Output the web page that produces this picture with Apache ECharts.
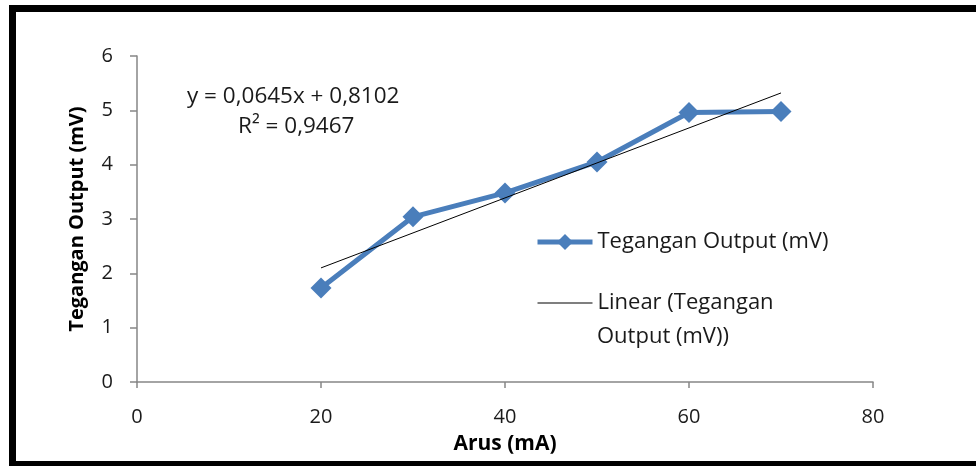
<!DOCTYPE html>
<html>
<head>
<meta charset="utf-8">
<script src="https://cdn.jsdelivr.net/npm/echarts@6/dist/echarts.min.js"></script>
<style>
  html, body { margin: 0; padding: 0; background: #fff; overflow: hidden; }
  #frame {
    position: absolute; left: 9px; top: 5px; width: 1000px; height: 449px;
    border-left: 7px solid #000; border-top: 7px solid #000; border-bottom: 5px solid #000;
  }
  #chart { position: absolute; left: 0; top: 0; width: 976px; height: 466px; }
</style>
</head>
<body>
<div id="frame"></div>
<div id="chart"></div>
<script>
const arus = [20, 30, 40, 50, 60, 70];
const tegangan = [1.73, 3.04, 3.48, 4.05, 4.96, 4.98];
// trendline ends
const trendX = [20, 70];
const trendY = [2.1, 5.32];
const eqText = ["y = 0,0645x + 0,8102", "R² = 0,9467"];

const font = "Open Sans";
const txt = "#1a1a1a";
const c = echarts.init(document.getElementById("chart"));

c.setOption({
  animation: false,
  textStyle: { fontFamily: font },
  grid: { left: 137, right: 103, top: 56, bottom: 84 },
  legend: {
    orient: "vertical",
    left: 530,
    top: 224,
    itemGap: 35,
    itemWidth: 55,
    itemHeight: 20,
    textStyle: { fontSize: 22, lineHeight: 26, color: txt, fontFamily: font },
    data: [
      { name: "Tegangan Output (mV)", lineStyle: { width: 5 } },
      { name: "Linear (Tegangan", icon: "path://M0,9.5 L56,9.5 L56,10.5 L0,10.5 Z", itemStyle: { color: "#000" } }
    ]
  },
  xAxis: {
    type: "value",
    min: 0, max: 80, interval: 20,
    name: "Arus (mA)",
    nameLocation: "middle",
    nameGap: 52,
    nameTextStyle: { fontSize: 21, fontWeight: "bold", color: "#000", fontFamily: font },
    axisLine: { lineStyle: { color: "#868686", width: 1.5 } },
    axisTick: { show: true, length: 6, lineStyle: { color: "#868686", width: 1.5 } },
    axisLabel: { fontSize: 20, color: txt, margin: 25 },
    splitLine: { show: false }
  },
  yAxis: {
    type: "value",
    min: 0, max: 6, interval: 1,
    name: "Tegangan Output (mV)",
    nameLocation: "middle",
    nameGap: 50,
    nameTextStyle: { fontSize: 20, fontWeight: "bold", color: "#000", fontFamily: font },
    axisLine: { show: true, lineStyle: { color: "#868686", width: 1.5 } },
    axisTick: { show: true, length: 7, lineStyle: { color: "#868686", width: 1.5 } },
    axisLabel: { fontSize: 20, color: txt, margin: 24 },
    splitLine: { show: false }
  },
  graphic: [
    {
      type: "text", left: 187, top: 85,
      style: { text: eqText[0], fontSize: 22.5, fill: txt, fontFamily: font }
    },
    {
      type: "text", left: 238, top: 115,
      style: { text: eqText[1], fontSize: 22.5, fill: txt, fontFamily: font }
    },
    {
      type: "text", left: 597, top: 326,
      style: { text: "Output (mV))", fontSize: 22, fill: txt, fontFamily: font }
    }
  ],
  series: [
    {
      name: "Linear (Tegangan",
      type: "line",
      data: trendX.map((x, i) => [x, trendY[i]]),
      symbol: "none",
      lineStyle: { color: "#000", width: 1 },
      itemStyle: { color: "#000" },
      z: 3
    },
    {
      name: "Tegangan Output (mV)",
      type: "line",
      data: arus.map((x, i) => [x, tegangan[i]]),
      symbol: "diamond",
      symbolSize: 21,
      lineStyle: { color: "#4A7EBB", width: 5 },
      itemStyle: { color: "#4A7EBB" },
      z: 2
    }
  ]
});
</script>
</body>
</html>
